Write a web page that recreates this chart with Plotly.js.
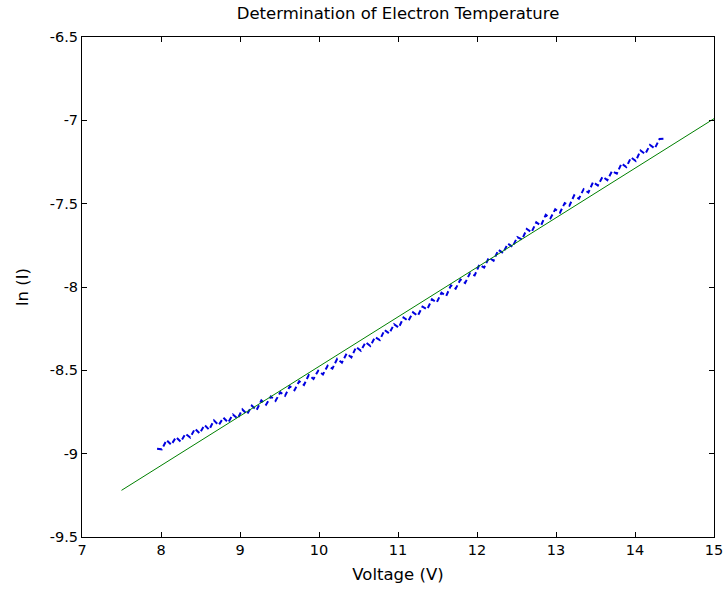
<!DOCTYPE html>
<html>
<head>
<meta charset="utf-8">
<script src="https://cdn.plot.ly/plotly-3.0.1.min.js"></script>
<style>html,body{margin:0;padding:0;background:#fff;}#chart{width:726px;height:592px;}</style>
</head>
<body>
<div id="chart"></div>
<script>
// Measured data (ln of probe current vs. voltage)
const voltage = [7.95,8.01,8.07,8.13,8.19,8.25,8.31,8.37,8.43,8.49,
  8.55,8.61,8.67,8.73,8.79,8.85,8.91,8.97,9.03,9.09,
  9.15,9.21,9.27,9.33,9.39,9.45,9.51,9.57,9.63,9.69,
  9.75,9.81,9.87,9.93,9.99,10.05,10.11,10.17,10.23,10.29,
  10.35,10.41,10.47,10.53,10.59,10.65,10.71,10.77,10.83,10.89,
  10.95,11.01,11.07,11.13,11.19,11.25,11.31,11.37,11.43,11.49,
  11.55,11.61,11.67,11.73,11.79,11.85,11.91,11.97,12.03,12.09,
  12.15,12.21,12.27,12.33,12.39,12.45,12.51,12.57,12.63,12.69,
  12.75,12.81,12.87,12.93,12.99,13.05,13.11,13.17,13.23,13.29,
  13.35,13.41,13.47,13.53,13.59,13.65,13.71,13.77,13.83,13.89,
  13.95,14.01,14.07,14.13,14.19,14.25,14.31,14.37];
const lnI = [-8.971,-8.974,-8.919,-8.947,-8.901,-8.929,-8.880,-8.903,-8.850,-8.878,
  -8.828,-8.856,-8.800,-8.829,-8.784,-8.813,-8.765,-8.789,-8.735,-8.764,
  -8.712,-8.739,-8.680,-8.706,-8.657,-8.683,-8.632,-8.653,-8.596,-8.619,
  -8.565,-8.588,-8.528,-8.552,-8.502,-8.525,-8.472,-8.490,-8.431,-8.454,
  -8.399,-8.422,-8.360,-8.383,-8.331,-8.354,-8.300,-8.318,-8.258,-8.279,
  -8.223,-8.244,-8.183,-8.204,-8.152,-8.173,-8.118,-8.134,-8.074,-8.093,
  -8.035,-8.054,-7.990,-8.010,-7.955,-7.976,-7.918,-7.931,-7.866,-7.884,
  -7.824,-7.842,-7.777,-7.796,-7.740,-7.759,-7.701,-7.715,-7.652,-7.671,
  -7.612,-7.631,-7.567,-7.588,-7.534,-7.554,-7.497,-7.512,-7.450,-7.470,
  -7.413,-7.433,-7.370,-7.391,-7.338,-7.359,-7.304,-7.320,-7.259,-7.280,
  -7.223,-7.244,-7.181,-7.202,-7.148,-7.169,-7.112,-7.110];
// Linear fit line endpoints
const fitV = [7.5, 15];
const fitLnI = [-9.22, -6.99];

const xTicks = [7,8,9,10,11,12,13,14,15];
const yTicks = [-9.5,-9,-8.5,-8,-7.5,-7,-6.5];

const FONT = 'DejaVu Sans, Liberation Sans, sans-serif';

const traces = [
  {x: voltage, y: lnI, type: 'scatter', mode: 'lines',
   line: {color: '#0000e0', width: 2, dash: '5px,3px'}, hoverinfo: 'skip'},
  {x: fitV, y: fitLnI, type: 'scatter', mode: 'lines',
   line: {color: '#008000', width: 1}, hoverinfo: 'skip'}
];

const axisCommon = {
  showline: true, linecolor: '#000', linewidth: 1, mirror: 'ticks',
  ticks: 'inside', ticklen: 5, tickwidth: 1, tickcolor: '#000',
  showgrid: false, zeroline: false,
  tickfont: {family: FONT, size: 14.5, color: '#000'}
};

const layout = {
  width: 726, height: 592,
  margin: {l: 82, r: 12, t: 37, b: 55},
  paper_bgcolor: '#fff', plot_bgcolor: '#fff',
  showlegend: false,
  font: {family: FONT, color: '#000'},
  title: {text: 'Determination of Electron Temperature', font: {family: FONT, size: 16.5, color: '#000'},
          xref: 'paper', x: 0.5, xanchor: 'center', yref: 'container', y: 0.977, yanchor: 'middle'},
  xaxis: Object.assign({}, axisCommon, {range: [7, 15], tickvals: xTicks, ticktext: xTicks.map(String),
    title: {text: 'Voltage (V)', font: {family: FONT, size: 16.5, color: '#000'}, standoff: 11}}),
  yaxis: Object.assign({}, axisCommon, {range: [-9.5, -6.5], tickvals: yTicks, ticktext: yTicks.map(String),
    title: {text: 'ln (I)', font: {family: FONT, size: 16.5, color: '#000'}, standoff: 17}})
};

Plotly.newPlot('chart', traces, layout, {displayModeBar: false, staticPlot: true});
</script>
</body>
</html>
